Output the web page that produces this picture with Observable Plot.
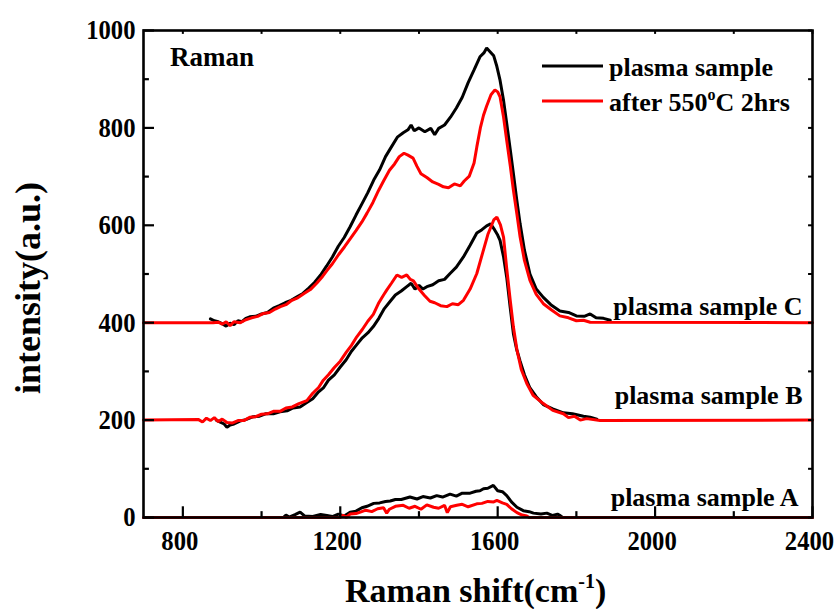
<!DOCTYPE html>
<html><head><meta charset="utf-8">
<script src="https://cdn.jsdelivr.net/npm/d3@7"></script>
<script src="https://cdn.jsdelivr.net/npm/@observablehq/plot@0.6"></script>
<style>body{margin:0;background:#fff}#chart{width:840px;height:609px}</style>
</head><body><div id="chart"></div>
<script>
// ---- data (Raman shift cm^-1, intensity a.u.; curves already offset) ----
const plasmaC = [[870,408],[880,404],[890,402],[900,398],[910,393],[920,399],[930,396],[940,404],[950,402],[960,409],[970,412],[985,413],[1000,418],[1015,421],[1030,430],[1045,435],[1060,441],[1075,446],[1090,453],[1105,460],[1120,471],[1135,483],[1150,498],[1165,516],[1180,535],[1195,557],[1210,575],[1225,597],[1240,621],[1255,644],[1270,667],[1285,693],[1300,714],[1315,741],[1330,761],[1345,781],[1360,790],[1372,796],[1380,806],[1388,794],[1400,800],[1415,792],[1430,799],[1440,786],[1450,799],[1465,806],[1480,822],[1495,841],[1510,863],[1525,893],[1540,919],[1555,946],[1565,954],[1572,964],[1580,957],[1590,948],[1598,926],[1606,898],[1615,856],[1623,809],[1632,755],[1640,706],[1648,655],[1657,603],[1668,549],[1682,500],[1698,469],[1716,452],[1735,437],[1758,424],[1780,421],[1800,414],[1820,413],[1835,418],[1850,410],[1869,409],[1886,405]];
const annealedC = [[700,400],[877,400],[890,401],[900,397],[910,402],[920,394],[930,402],[946,400],[960,406],[975,410],[990,413],[1005,419],[1020,421],[1035,428],[1048,433],[1062,437],[1077,446],[1092,451],[1108,460],[1124,468],[1140,481],[1155,495],[1166,507],[1180,521],[1196,540],[1211,556],[1226,573],[1240,589],[1255,607],[1268,625],[1283,647],[1297,671],[1310,691],[1325,713],[1338,726],[1350,741],[1362,748],[1372,744],[1385,738],[1395,721],[1405,706],[1420,698],[1435,689],[1450,684],[1462,679],[1475,677],[1490,685],[1505,681],[1515,691],[1528,701],[1540,728],[1547,761],[1556,800],[1564,826],[1572,845],[1583,868],[1593,878],[1600,874],[1606,864],[1615,822],[1623,774],[1632,722],[1640,672],[1649,622],[1657,576],[1668,528],[1682,487],[1698,458],[1716,439],[1737,426],[1758,414],[1780,410],[1800,404],[1818,405],[1835,401],[2400,400]];
const plasmaB = [[885,200],[895,196],[905,192],[912,185],[920,190],[930,192],[945,198],[960,201],[979,207],[995,208],[1010,213],[1030,213],[1047,217],[1065,219],[1080,225],[1098,227],[1115,236],[1130,244],[1145,258],[1157,266],[1170,282],[1185,293],[1200,309],[1215,324],[1228,341],[1242,355],[1256,369],[1270,379],[1284,392],[1298,409],[1312,429],[1327,444],[1340,457],[1355,465],[1369,474],[1380,481],[1390,469],[1400,477],[1410,469],[1420,474],[1435,478],[1450,486],[1465,489],[1479,501],[1495,514],[1513,535],[1530,559],[1547,584],[1560,591],[1572,599],[1582,603],[1592,591],[1600,580],[1606,569],[1615,535],[1623,493],[1632,430],[1640,377],[1648,346],[1657,321],[1668,293],[1682,266],[1698,248],[1716,232],[1740,223],[1767,215],[1790,213],[1818,208],[1835,206],[1852,202]];
const annealedB = [[700,200],[840,201],[850,196],[860,204],[870,199],[880,205],[890,197],[900,202],[912,195],[925,194],[940,199],[955,199],[970,206],[985,207],[1000,212],[1015,213],[1030,218],[1047,218],[1062,225],[1078,227],[1095,234],[1115,240],[1130,255],[1145,267],[1157,282],[1170,293],[1185,308],[1200,321],[1215,339],[1228,353],[1242,371],[1256,386],[1270,403],[1284,417],[1298,441],[1310,457],[1318,467],[1330,481],[1344,498],[1356,493],[1369,498],[1378,489],[1386,486],[1400,469],[1414,456],[1428,444],[1440,441],[1455,435],[1471,433],[1485,439],[1500,437],[1513,446],[1530,469],[1547,501],[1562,544],[1575,581],[1582,595],[1590,611],[1598,617],[1607,601],[1615,575],[1623,511],[1632,445],[1640,391],[1649,344],[1660,304],[1674,275],[1690,251],[1716,234],[1740,220],[1767,213],[1780,205],[1795,208],[1810,200],[1826,203],[1860,199],[2400,200]];
const plasmaA = [[1055,0],[1062,5],[1070,1],[1085,6],[1098,11],[1110,3],[1130,2],[1150,6],[1166,4],[1180,2],[1195,7],[1210,3],[1225,11],[1240,13],[1255,20],[1268,23],[1285,29],[1300,30],[1315,33],[1327,34],[1340,37],[1355,37],[1377,42],[1395,38],[1410,43],[1429,40],[1445,45],[1460,42],[1479,48],[1495,44],[1510,50],[1530,50],[1545,54],[1555,55],[1564,59],[1575,60],[1589,66],[1600,55],[1612,53],[1623,45],[1635,32],[1649,21],[1665,14],[1680,12],[1691,9],[1710,7],[1725,9],[1740,4],[1752,7],[1759,4],[1765,0]];
const annealedA = [[700,0],[1200,0],[1207,5],[1215,0],[1225,7],[1240,8],[1251,11],[1265,15],[1280,12],[1295,18],[1310,20],[1318,9],[1325,17],[1340,23],[1360,25],[1375,19],[1390,23],[1405,17],[1420,26],[1437,21],[1450,19],[1465,25],[1472,10],[1480,22],[1496,25],[1510,27],[1525,22],[1547,28],[1560,29],[1575,33],[1590,32],[1598,35],[1612,30],[1623,27],[1635,18],[1649,10],[1662,5],[1674,3],[1680,0],[2400,0]];

const xTicksMajor = [800, 1200, 1600, 2000, 2400];
const xTicksMinor = [1000, 1400, 1800, 2200];
const yTicksMajor = [0, 200, 400, 600, 800, 1000];
const yTicksMinor = [100, 300, 500, 700, 900];
const sampleLabels = ["plasma sample A", "plasma sample B", "plasma sample C"];
const sampleOffsets = [0, 200, 400];
const seriesNames = ["plasma sample", "after 550", "C 2hrs"];
const seriesColors = ["#000000", "#ff0000"];
const panelLabel = "Raman";

// ---- build ----
const toRows = (arr, sample) => arr.map(([x, y]) => ({x, y, sample}));
const blackRows = [...toRows(plasmaA, "A"), ...toRows(plasmaB, "B"), ...toRows(plasmaC, "C")];
const redRows = [...toRows(annealedA, "A"), ...toRows(annealedB, "B"), ...toRows(annealedC, "C")];
const FONT = "'Liberation Serif','Times New Roman',serif";

const chart = Plot.plot({
  width: 840, height: 609,
  marginLeft: 143, marginRight: 28, marginTop: 30, marginBottom: 92,
  style: {fontFamily: FONT, fontWeight: "bold", fontSize: "28px", background: "#fff", color: "#000"},
  x: {domain: [700, 2400]},
  y: {domain: [0, 1000]},
  marks: [
    Plot.line(blackRows, {x: "x", y: "y", z: "sample", stroke: seriesColors[0], strokeWidth: 3, strokeLinejoin: "miter"}),
    Plot.line(redRows, {x: "x", y: "y", z: "sample", stroke: seriesColors[1], strokeWidth: 3, strokeLinejoin: "miter"}),
    // inward ticks bottom / top
    Plot.ruleX(xTicksMajor, {x: d => d, y1: 0, y2: 22, stroke: "#000", strokeWidth: 2.2}),
    Plot.ruleX(xTicksMinor, {x: d => d, y1: 0, y2: 12, stroke: "#000", strokeWidth: 2.2}),
    Plot.ruleX(xTicksMajor, {x: d => d, y1: 1000, y2: 992, stroke: "#000", strokeWidth: 2}),
    Plot.ruleX(xTicksMinor, {x: d => d, y1: 1000, y2: 992, stroke: "#000", strokeWidth: 2}),
    // inward ticks left / right
    Plot.ruleY(yTicksMajor, {y: d => d, x1: 700, x2: 728, stroke: "#000", strokeWidth: 2.2}),
    Plot.ruleY(yTicksMinor, {y: d => d, x1: 700, x2: 715, stroke: "#000", strokeWidth: 2.2}),
    Plot.ruleY(yTicksMajor, {y: d => d, x1: 2400, x2: 2390, stroke: "#000", strokeWidth: 2}),
    Plot.ruleY(yTicksMinor, {y: d => d, x1: 2400, x2: 2390, stroke: "#000", strokeWidth: 2}),
    Plot.frame({stroke: "#000", strokeWidth: 2.6}),
    Plot.axisX({ticks: xTicksMajor, tickSize: 0, tickPadding: 13, dx: -3, label: null, tickFormat: d => String(d)}),
    Plot.axisY({ticks: yTicksMajor, tickSize: 0, tickPadding: 8, label: null, tickFormat: d => String(d)}),
    Plot.text([sampleLabels[0]], {x: 2400, y: sampleOffsets[0], text: d => d, textAnchor: "end", dx: -14, dy: -12, lineAnchor: "bottom", fontSize: 26}),
    Plot.text([sampleLabels[1]], {x: 2400, y: sampleOffsets[1], text: d => d, textAnchor: "end", dx: -10, dy: -16, lineAnchor: "bottom", fontSize: 26}),
    Plot.text([sampleLabels[2]], {x: 2400, y: sampleOffsets[2], text: d => d, textAnchor: "end", dx: -10, dy: -8, lineAnchor: "bottom", fontSize: 26})
  ]
});
document.getElementById("chart").appendChild(chart);

const svg = d3.select(chart);
// compress numeric tick labels slightly (narrow bold serif look of original)
svg.selectAll('g[aria-label="x-axis tick label"] text, g[aria-label="y-axis tick label"] text').each(function() {
  const w = this.getComputedTextLength();
  this.setAttribute("textLength", (w * 0.88).toFixed(1));
  this.setAttribute("lengthAdjust", "spacingAndGlyphs");
});

// panel label
svg.append("text").attr("x", 170).attr("y", 66).attr("text-anchor", "start").attr("font-size", 27)
  .attr("font-weight", "bold").attr("font-family", FONT).text(panelLabel);

// legend
const legendRows = [
  {color: seriesColors[0], y: 66, parts: [[seriesNames[0], 0]]},
  {color: seriesColors[1], y: 101, parts: [[seriesNames[1], 0], ["o", -11], [seriesNames[2], 11]]}
];
legendRows.forEach(r => {
  svg.append("line").attr("x1", 542).attr("x2", 603).attr("y1", r.y).attr("y2", r.y)
    .attr("stroke", r.color).attr("stroke-width", 3);
  const t = svg.append("text").attr("x", 609).attr("y", r.y + 10).attr("text-anchor", "start")
    .attr("font-size", 26).attr("font-weight", "bold").attr("font-family", FONT);
  r.parts.forEach(([s, dy]) => {
    const sp = t.append("tspan").attr("dy", dy).text(s);
    if (dy < 0) sp.attr("font-size", 16);
  });
});

// axis titles
const xt = svg.append("text").attr("x", 345).attr("y", 602).attr("text-anchor", "start")
  .attr("font-size", 34).attr("font-weight", "bold").attr("font-family", FONT);
xt.append("tspan").text("Raman shift(cm");
xt.append("tspan").attr("dy", -14).attr("font-size", 20).text("-1");
xt.append("tspan").attr("dy", 14).text(")");

svg.append("text").attr("transform", "translate(40,288) rotate(-90)").attr("text-anchor", "middle")
  .attr("font-size", 36).attr("font-weight", "bold").attr("font-family", FONT).text("intensity(a.u.)");
</script>
</body></html>
